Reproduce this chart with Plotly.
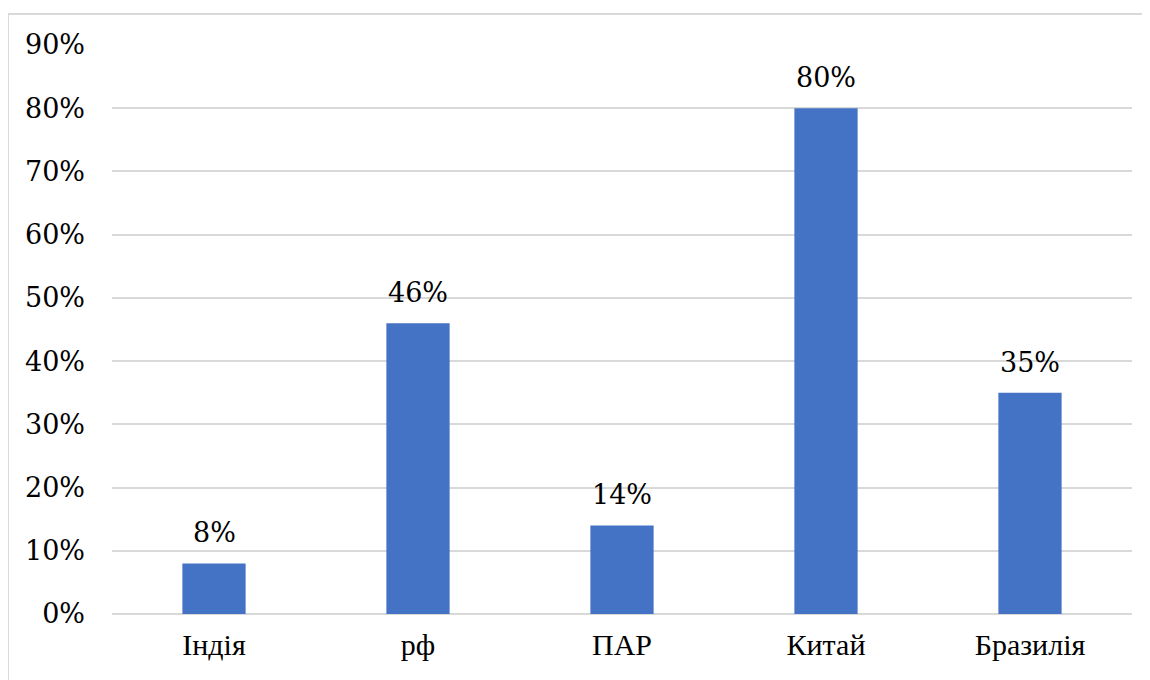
import plotly.graph_objects as go

categories = ["Індія", "рф", "ПАР", "Китай", "Бразилія"]
values = [0.08, 0.46, 0.14, 0.80, 0.35]
labels = ["8%", "46%", "14%", "80%", "35%"]
tick_vals = [0, 0.1, 0.2, 0.3, 0.4, 0.5, 0.6, 0.7, 0.8, 0.9]
tick_text = ["0%", "10%", "20%", "30%", "40%", "50%", "60%", "70%", "80%", "90%"]

W, H = 1150, 680
L, T = 104, 37
pw, ph = 1020, 569
R, B = W - L - pw, H - T - ph

cat_font = "Times New Roman"
num_font = "DejaVu Serif"
FS = 30
NFS = 27

fig = go.Figure(go.Bar(
    x=categories, y=values,
    marker=dict(color="#4472C4", line=dict(width=0)),
    cliponaxis=False, width=0.31,
))

annotations = [
    dict(x=c, y=v, xref="x", yref="y", text=t, showarrow=False,
         yanchor="bottom", yshift=13,
         font=dict(family=num_font, size=NFS, color="#000000"))
    for c, v, t in zip(categories, values, labels)
]

fig.update_layout(
    width=W, height=H,
    margin=dict(l=L, r=R, t=T, b=B),
    paper_bgcolor="white", plot_bgcolor="white",
    showlegend=False,
    font=dict(family=cat_font, size=FS, color="#000000"),
    xaxis=dict(showgrid=False, showline=False, ticks="",
               tickfont=dict(family=cat_font, size=FS),
               ticklabelstandoff=10),
    yaxis=dict(range=[0, 0.9], tickvals=tick_vals, ticktext=tick_text,
               showgrid=True, gridcolor="#d9d9d9", gridwidth=2,
               zeroline=True, zerolinecolor="#d9d9d9", zerolinewidth=2,
               showline=False, ticks="",
               tickfont=dict(family=num_font, size=NFS),
               ticklabelstandoff=26),
    annotations=annotations,
    shapes=[dict(type="rect", xref="paper", yref="paper",
                 x0=(0 - L) / pw, x1=(W + 40 - L) / pw,
                 y0=-(H + 40 - T - ph) / ph, y1=(T + ph - 6) / ph,
                 line=dict(color="#d9d9d9", width=2), fillcolor="rgba(0,0,0,0)",
                 layer="below")],
)

fig.write_html("out.html")
